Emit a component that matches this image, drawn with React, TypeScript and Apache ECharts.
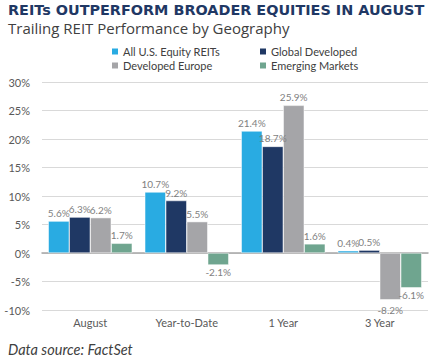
import React, { useEffect, useRef } from "react";
import * as echarts from "echarts";

const categories = ["August", "Year-to-Date", "1 Year", "3 Year"];
const seriesNames = ["All U.S. Equity REITs", "Global Developed", "Developed Europe", "Emerging Markets"];
const usReits = [5.6, 10.7, 21.4, 0.4];
const globalDev = [6.3, 9.2, 18.7, 0.5];
const devEurope = [6.2, 5.5, 25.9, -8.2];
const emerging = [1.7, -2.1, 1.6, -6.1];
const colors = ["#29ABE2", "#1F3864", "#A5A5A8", "#6FA58F"];

const FONT = "Lato, 'Open Sans', sans-serif";

export default function App() {
  const ref = useRef<HTMLDivElement>(null);
  useEffect(() => {
    if (!ref.current) return;
    const chart = echarts.init(ref.current, null, { renderer: "svg" });
    const all = [usReits, globalDev, devEurope, emerging];
    const legendPos = [
      [105, 41],
      [253, 41],
      [105, 55],
      [253, 55],
    ];
    chart.setOption({
      animation: false,
      backgroundColor: "#fff",
      textStyle: { fontFamily: FONT },
      title: [
        {
          text: "REITs OUTPERFORM BROADER EQUITIES IN AUGUST",
          left: 3,
          top: -2,
          textStyle: { fontFamily: "'DejaVu Sans', sans-serif", fontWeight: "bold", fontSize: 14.4, color: "#1F3864" },
        },
        {
          text: "Trailing REIT Performance by Geography",
          left: 3,
          top: 15,
          textStyle: { fontFamily: "'Open Sans', sans-serif", fontWeight: "normal", fontSize: 15, color: "#404040" },
        },
        {
          text: "Data source: FactSet",
          left: 3,
          top: 337,
          textStyle: { fontFamily: FONT, fontWeight: "normal", fontStyle: "italic", fontSize: 14.5, color: "#404040" },
        },
      ],
      legend: seriesNames.map((n, i) => ({
        data: [n],
        left: legendPos[i][0],
        top: legendPos[i][1],
        itemWidth: 8,
        itemHeight: 8,
        icon: "rect",
        textStyle: { fontFamily: FONT, fontSize: 11, color: "#404040", padding: [0, 0, 0, -1] },
      })),
      grid: { left: 42, right: 2, top: 82, bottom: 50, containLabel: false },
      xAxis: {
        type: "category",
        data: categories,
        axisTick: { show: false },
        axisLine: { onZero: true, lineStyle: { color: "#A6A6A6", width: 1.5 } },
        axisLabel: { color: "#595959", fontSize: 11, fontFamily: FONT, margin: 7 },
        position: "bottom",
      },
      yAxis: {
        type: "value",
        min: -10,
        max: 30,
        interval: 5,
        axisLabel: { formatter: "{value}%", color: "#595959", fontSize: 11, fontFamily: FONT, margin: 12 },
        splitLine: { lineStyle: { color: "#D9D9D9", width: 1 } },
        axisLine: { show: false },
        axisTick: { show: false },
      },
      series: all.map((vals, i) => ({
        name: seriesNames[i],
        type: "bar",
        barGap: "0%",
        barCategoryGap: "13%",
        itemStyle: { color: colors[i], borderColor: "#fff", borderWidth: 0.5 },
        label: {
          show: true,
          position: "top",
          formatter: (p: any) => p.value.toFixed(1) + "%",
          color: "#7F7F7F",
          fontSize: 10,
          fontFamily: FONT,
          distance: 3,
        },
        data: vals.map((v, c) => {
          if (v >= 0) return { value: v };
          const neighbor = all[i + 1] ? all[i + 1][c] : 0;
          const clash = neighbor < 0 && v < neighbor;
          return { value: v, label: { position: "bottom", distance: 2, offset: clash ? [0, 3] : [0, 0] } };
        }),
      })),
    });
    return () => chart.dispose();
  }, []);
  return <div ref={ref} style={{ width: 430, height: 360, position: "absolute", left: 0, top: 0 }} />;
}
